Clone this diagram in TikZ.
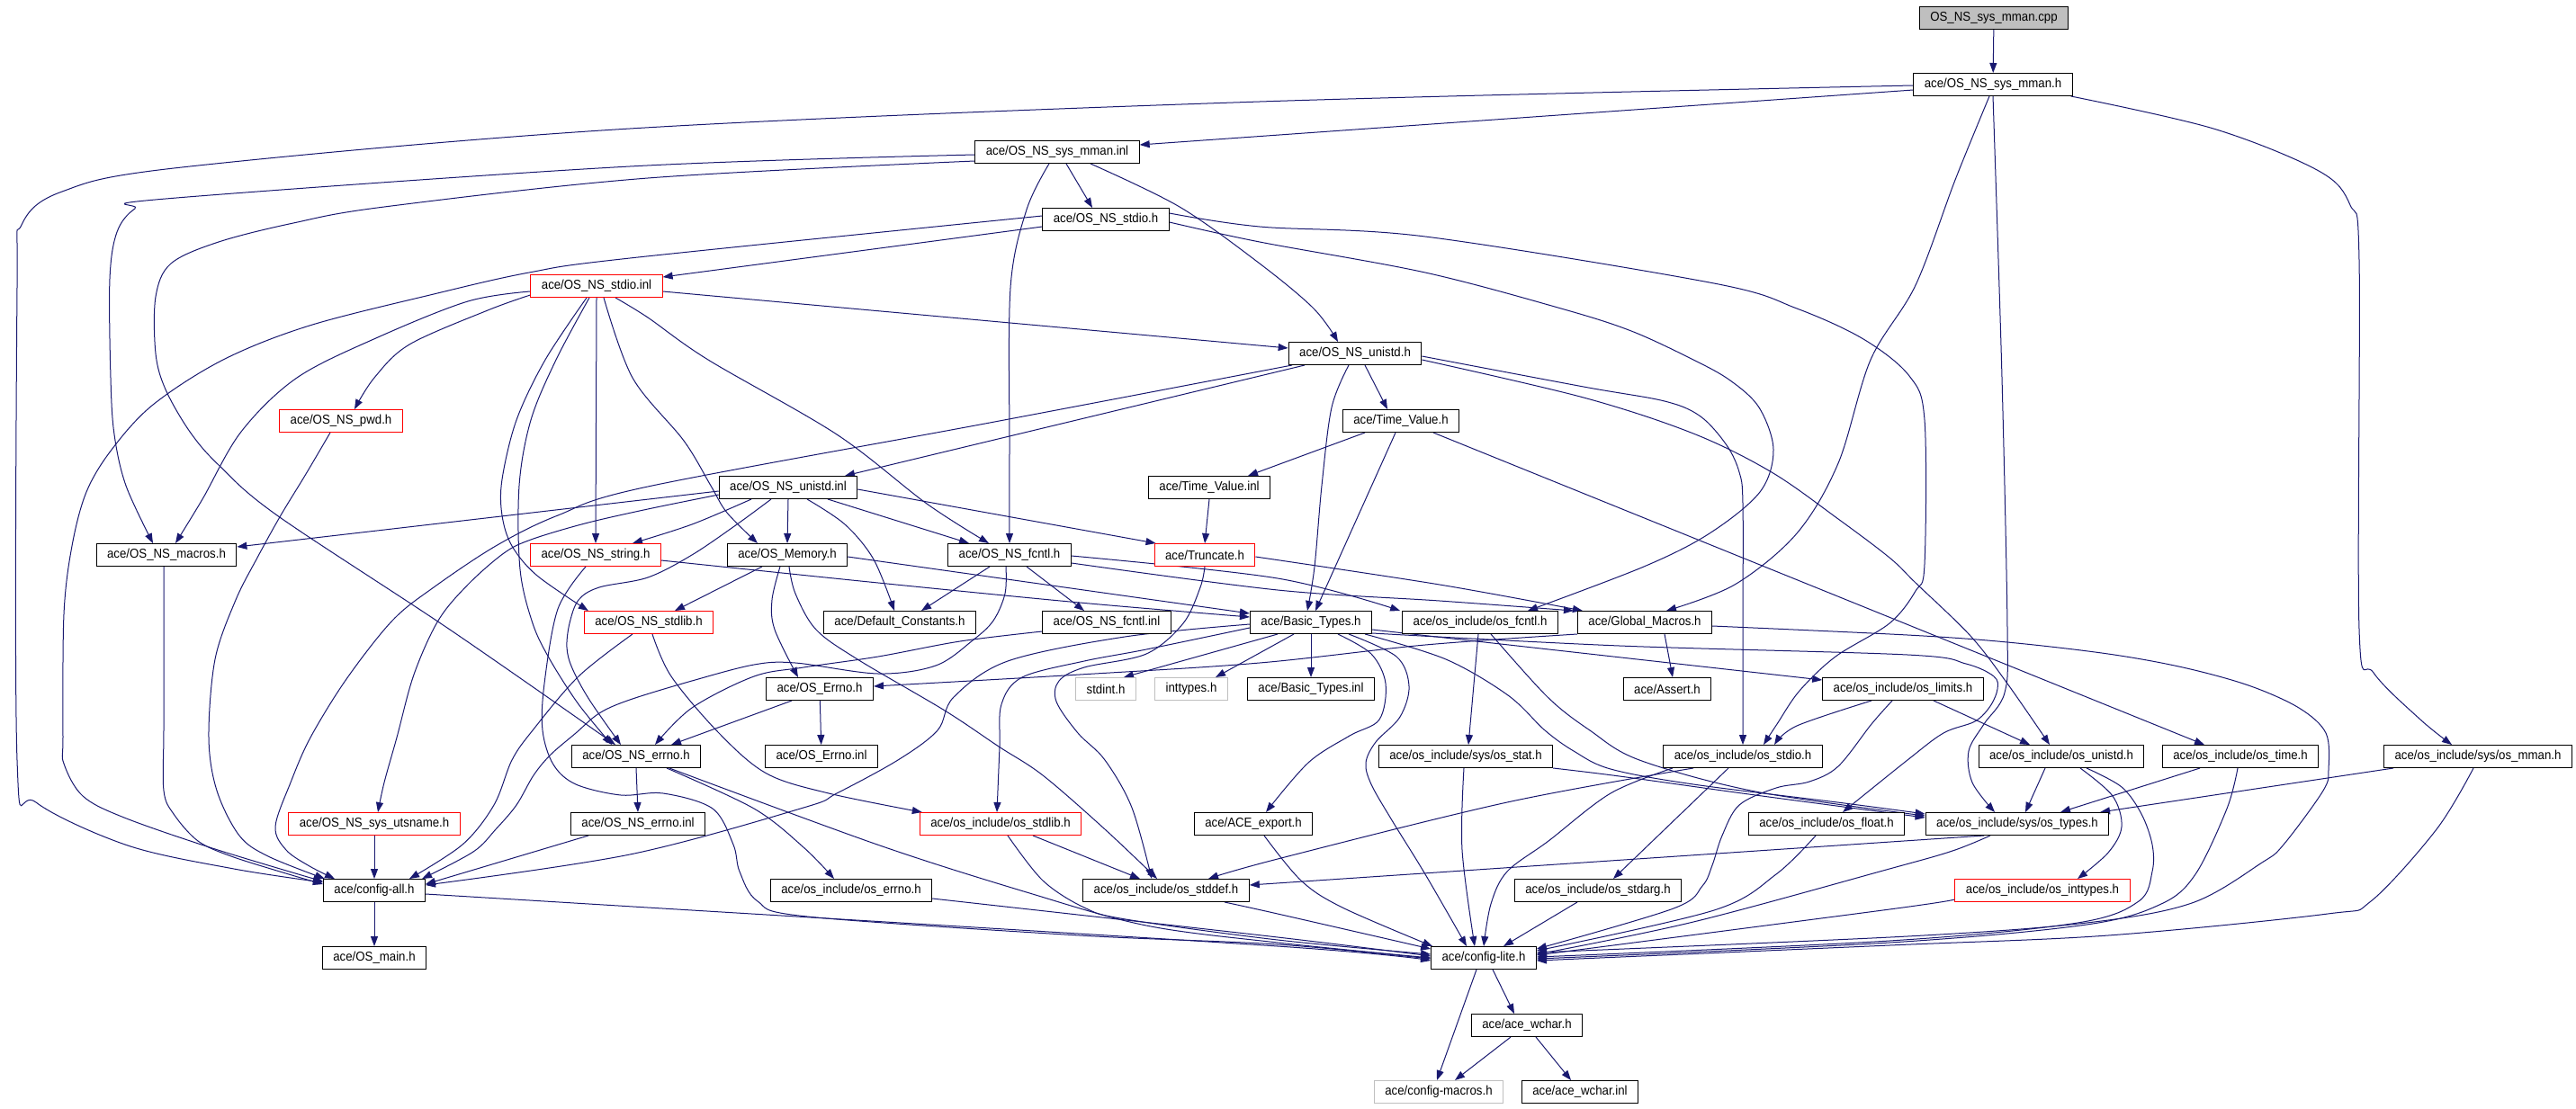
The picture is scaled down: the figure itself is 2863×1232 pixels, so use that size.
\documentclass[tikz,border=0pt]{standalone}
\usepackage{fontspec}
\setmainfont{Liberation Sans}[FakeStretch=0.92]
\usetikzlibrary{arrows.meta}
\definecolor{eblue}{RGB}{25,25,112}
\definecolor{bgray}{RGB}{191,191,191}
\pgfdeclarelayer{bgl}
\pgfdeclarelayer{edl}
\pgfsetlayers{bgl,edl,main}
\newcommand\dfont{\fontsize{14.4}{16}\selectfont}
\tikzset{
  nbox/.style={draw=black, line width=1pt, fill=white, minimum height=25pt, inner xsep=12pt, inner ysep=0pt, font=\dfont, text=black},
  rbox/.style={nbox, draw=red},
  gbox/.style={nbox, draw=bgray},
  edg/.style={draw=eblue, line width=1pt, -{Triangle[length=11pt,width=8pt]}, fill=none},
  sm/.style={smooth, tension=0.55}
}
\begin{document}
\begin{tikzpicture}[x=1pt,y=-1pt]
\begin{pgfonlayer}{bgl}
\fill[white] (0,0) rectangle (2863,1232);
\end{pgfonlayer}
\useasboundingbox (0,0) rectangle (2863,1232);
% nodes
\node[nbox, fill=bgray] (cpp) at (2216,20) {OS\_NS\_sys\_mman.cpp};
\node[nbox] (smh) at (2215,94) {ace/OS\_NS\_sys\_mman.h};
\node[nbox] (smi) at (1175,169) {ace/OS\_NS\_sys\_mman.inl};
\node[nbox] (stdioh) at (1229,244) {ace/OS\_NS\_stdio.h};
\node[rbox] (stdioi) at (663,318) {ace/OS\_NS\_stdio.inl};
\node[nbox] (unih) at (1506,393) {ace/OS\_NS\_unistd.h};
\node[rbox] (pwd) at (379,468) {ace/OS\_NS\_pwd.h};
\node[nbox] (tvh) at (1557,468) {ace/Time\_Value.h};
\node[nbox] (unii) at (876,542) {ace/OS\_NS\_unistd.inl};
\node[nbox] (tvi) at (1344,542) {ace/Time\_Value.inl};
\node[nbox] (macros) at (185,617) {ace/OS\_NS\_macros.h};
\node[rbox] (string) at (662,617) {ace/OS\_NS\_string.h};
\node[nbox] (memory) at (875,617) {ace/OS\_Memory.h};
\node[nbox] (fcntl) at (1122,617) {ace/OS\_NS\_fcntl.h};
\node[rbox] (trunc) at (1339,617) {ace/Truncate.h};
\node[rbox] (stdlib) at (721,692) {ace/OS\_NS\_stdlib.h};
\node[nbox] (defc) at (1000,692) {ace/Default\_Constants.h};
\node[nbox] (fcntli) at (1230,692) {ace/OS\_NS\_fcntl.inl};
\node[nbox] (basic) at (1457,692) {ace/Basic\_Types.h};
\node[nbox] (osfcntl) at (1645,692) {ace/os\_include/os\_fcntl.h};
\node[nbox] (glob) at (1828,692) {ace/Global\_Macros.h};
\node[nbox] (errnoh) at (911,766) {ace/OS\_Errno.h};
\node[gbox] (stdint) at (1229,766) {stdint.h};
\node[gbox] (inttypes) at (1324,766) {inttypes.h};
\node[nbox] (basici) at (1457,766) {ace/Basic\_Types.inl};
\node[nbox] (assert) at (1853,766) {ace/Assert.h};
\node[nbox] (limits) at (2115,766) {ace/os\_include/os\_limits.h};
\node[nbox] (nserrno) at (707,841) {ace/OS\_NS\_errno.h};
\node[nbox] (errnoi) at (913,841) {ace/OS\_Errno.inl};
\node[nbox] (osstat) at (1629,841) {ace/os\_include/sys/os\_stat.h};
\node[nbox] (osstdio) at (1937,841) {ace/os\_include/os\_stdio.h};
\node[nbox] (osunistd) at (2291,841) {ace/os\_include/os\_unistd.h};
\node[nbox] (ostime) at (2490,841) {ace/os\_include/os\_time.h};
\node[nbox] (osmman) at (2754,841) {ace/os\_include/sys/os\_mman.h};
\node[rbox] (uts) at (416,916) {ace/OS\_NS\_sys\_utsname.h};
\node[nbox] (nserrnoi) at (709,916) {ace/OS\_NS\_errno.inl};
\node[rbox] (osstdlib) at (1112,916) {ace/os\_include/os\_stdlib.h};
\node[nbox] (export) at (1393,916) {ace/ACE\_export.h};
\node[nbox] (osfloat) at (2030,916) {ace/os\_include/os\_float.h};
\node[nbox] (ostypes) at (2242,916) {ace/os\_include/sys/os\_types.h};
\node[nbox] (cfgall) at (416,990) {ace/config-all.h};
\node[nbox] (oserrno) at (946,990) {ace/os\_include/os\_errno.h};
\node[nbox] (osstddef) at (1296,990) {ace/os\_include/os\_stddef.h};
\node[nbox] (osstdarg) at (1776,990) {ace/os\_include/os\_stdarg.h};
\node[rbox] (osinttypes) at (2270,990) {ace/os\_include/os\_inttypes.h};
\node[nbox] (osmain) at (416,1065) {ace/OS\_main.h};
\node[nbox] (cfglite) at (1649,1065) {ace/config-lite.h};
\node[nbox] (wchar) at (1697,1140) {ace/ace\_wchar.h};
\node[gbox] (cfgmacros) at (1599,1214) {ace/config-macros.h};
\node[nbox] (wchari) at (1756,1214) {ace/ace\_wchar.inl};
% edges
\begin{pgfonlayer}{edl}
\draw[edg] (cpp) -- (smh);
\draw[edg] ([yshift=-6pt]smh.west) -- ([yshift=8pt]smi.east);
\draw[edg] plot[sm] coordinates {([yshift=-1pt]smh.west) (1400,113) (700,143) (202,186) (69,213) (24,250) (19,320) (19,845) (40,892) (142,940) (260,966) ([yshift=9pt]cfgall.west)};
\draw[edg] plot[sm] coordinates {([xshift=-4pt]smh.south) (2173,200) (2129,317) (2079,400) (2043,515) (1997,593) (1928,650) ([xshift=24pt]glob.north)};
\draw[edg] plot[sm] coordinates {(smh.south) (2225,420) (2231,700) (2228,770) (2205,805) (2188,835) (2192,870) ([xshift=-25pt]ostypes.north)};
\draw[edg] plot[sm] coordinates {([xshift=-2pt]smh.south east) (2460,143) (2577,190) (2612,228) (2622,290) (2622,700) (2638,748) (2690,800) ([xshift=-29pt]osmman.north)};
\draw[edg] ([xshift=10pt]smi.south) -- ([xshift=-15pt]stdioh.north);
\draw[edg] plot[sm] coordinates {([xshift=37pt]smi.south) (1311,230) (1400,293) (1460,343) ([xshift=-19pt]unih.north)};
\draw[edg] plot[sm] coordinates {([xshift=-9pt]smi.south) (1141,233) (1123,320) (1122,500) (fcntl.north)};
\draw[edg] plot[sm] coordinates {([yshift=-3pt]smi.west) (700,185) (184,221) (150,232) (130,258) (122,310) (123,420) (127,483) (140,540) ([xshift=-15pt]macros.north)};
\draw[edg] plot[sm] coordinates {([yshift=-10pt]smi.west) (720,198) (427,230) (326,248) (243,269) (190,293) (173,330) (173,393) (184,433) (211,480) (243,517) (308,573) (500,700) ([xshift=-23pt]nserrno.north)};
\draw[edg] ([yshift=-8pt]stdioh.west) -- ([yshift=-3pt]stdioi.north east);
\draw[edg] plot[sm] coordinates {([yshift=4pt]stdioh.west) (700,287) (588,303) (482,327) (344,362) (248,400) (170,450) (124,500) (96,547) (80,607) (71,683) (70,820) (71,849) (92,885) (138,909) (239,944) ([yshift=-3pt]cfgall.north west)};
\draw[edg] plot[sm] coordinates {([yshift=-3pt]stdioh.east) (1400,269) (1584,303) (1735,343) (1813,368) (1882,400) (1923,423) (1955,453) (1971,500) (1956,547) (1900,593) (1827,630) ([xshift=53pt]osfcntl.north)};
\draw[edg] plot[sm] coordinates {([yshift=7pt]stdioh.east) (1400,252) (1584,263) (1905,315) (1997,343) (2071,377) (2122,418) (2139,467) (2139,627) (2129,657) (2100,693) (2040,730) (2000,768) (1975,805) ([xshift=23pt]osstdio.north)};
\draw[edg] ([yshift=-6pt]stdioi.east) -- ([yshift=6pt]unih.west);
\draw[edg] plot[sm] coordinates {([yshift=-10pt]stdioi.west) (542,345) (455,383) (416,420) ([xshift=15pt]pwd.north)};
\draw[edg] plot[sm] coordinates {([yshift=-6pt]stdioi.west) (520,335) (420,375) (330,420) (268,480) (225,555) ([xshift=10pt]macros.north)};
\draw[edg] plot[sm] coordinates {([xshift=-11pt]stdioi.south) (606,400) (574,467) (558,533) (558,573) (569,607) (597,640) ([xshift=5pt]stdlib.north west)};
\draw[edg] plot[sm] coordinates {([xshift=-8pt]stdioi.south) (618,400) (590,467) (577,540) (578,633) (592,693) (611,733) (643,783) ([xshift=-27pt]nserrno.north)};
\draw[edg] (stdioi.south) -- (string.north);
\draw[edg] plot[sm] coordinates {([xshift=8pt]stdioi.south) (703,420) (760,490) (790,540) (808,570) ([xshift=-33pt]memory.north)};
\draw[edg] plot[sm] coordinates {([xshift=21pt]stdioi.south) (720,353) (787,400) (930,483) (1030,560) ([xshift=-23pt]fcntl.north)};
\draw[edg] ([xshift=-56pt]unih.south) -- ([xshift=63pt]unii.north);
\draw[edg] plot[sm] coordinates {([xshift=-70pt]unih.south) (1100,470) (720,541) (620,573) (551,607) (482,653) (436,690) (385,755) (345,820) (323,870) (306,919) (318,945) (344,963) ([xshift=-44pt]cfgall.north)};
\draw[edg] ([xshift=11pt]unih.south) -- ([xshift=-15pt]tvh.north);
\draw[edg] plot[sm] coordinates {([xshift=-7pt]unih.south) (1480,453) (1469,540) (1461,630) ([xshift=-4pt]basic.north)};
\draw[edg] ([xshift=-6pt]tvh.south) -- ([xshift=5pt]basic.north);
\draw[edg] plot[sm] coordinates {([yshift=-3pt]unih.east) (1760,430) (1850,446) (1890,463) (1919,495) (1933,525) (1937,560) (1937,700) (osstdio.north)};
\draw[edg] plot[sm] coordinates {([yshift=-7pt]unih.east) (1760,442) (1882,482) (1969,525) (2043,577) (2100,620) (2129,648) (2190,707) (2231,760) ([xshift=-13pt]osunistd.north)};
\draw[edg] ([xshift=-40pt]tvh.south) -- ([xshift=43pt]tvi.north);
\draw[edg] ([xshift=36pt]tvh.south) -- ([xshift=-40pt]ostime.north);
\draw[edg] (tvi.south) -- (trunc.north);
\draw[edg] ([yshift=-4pt]unii.west) -- ([yshift=9pt]macros.east);
\draw[edg] plot[sm] coordinates {([yshift=-8pt]unii.west) (720,566) (650,582) (590,600) (560,615) (520,650) (487,690) (460,750) (441,820) (427,870) ([xshift=4pt]uts.north)};
\draw[edg] plot[sm] coordinates {([xshift=-41pt]unii.south) (769,583) ([xshift=41pt]string.north)};
\draw[edg] plot[sm] coordinates {([xshift=-19pt]unii.south) (819,583) (769,617) (720,642) (666,653) (643,667) (633,693) (630,720) (636,743) (655,778) ([xshift=-17pt]nserrno.north)};
\draw[edg] (unii.south) -- (memory.north);
\draw[edg] plot[sm] coordinates {([xshift=21pt]unii.south) (939,583) (971,622) ([xshift=-6pt]defc.north)};
\draw[edg] ([xshift=44pt]unii.south) -- ([xshift=-45pt]fcntl.north);
\draw[edg] ([yshift=-2pt]unii.east) -- ([xshift=2pt]trunc.north west);
\draw[edg] ([xshift=-28pt]memory.south) -- ([xshift=29pt]stdlib.north);
\draw[edg] plot[sm] coordinates {([xshift=-8pt]memory.south) (858,667) (861,700) ([xshift=-24pt]errnoh.north)};
\draw[edg] ([yshift=-2pt]memory.east) -- ([yshift=-3pt]basic.north west);
\draw[edg] plot[sm] coordinates {([xshift=2pt]memory.south) (884,660) (907,700) (953,733) (1050,790) (1110,830) (1159,862) (1228,922) ([xshift=-10pt]osstddef.north)};
\draw[edg] plot[sm] coordinates {([yshift=-6pt]string.east) (976,648) (1200,670) ([yshift=-7pt]basic.north west)};
\draw[edg] plot[sm] coordinates {([xshift=-11pt]string.south) (620,677) (605,760) (603,812) (615,850) (640,872) (690,884) (737,882) (792,899) (815,939) (822,969) (842,1002) (897,1019) (1200,1040) (1420,1050) ([yshift=-1pt]cfglite.west)};
\draw[edg] plot[sm] coordinates {([xshift=-18pt]stdlib.south) (643,752) (592,812) (569,845) (549,895) (514,939) ([xshift=39pt]cfgall.north)};
\draw[edg] plot[sm] coordinates {([xshift=4pt]stdlib.south) (746,752) (799,815) (852,860) (921,882) ([xshift=3pt]osstdlib.north west)};
\draw[edg] ([xshift=-22pt]fcntl.south) -- ([xshift=24pt]defc.north);
\draw[edg] ([xshift=19pt]fcntl.south) -- ([xshift=-25pt]fcntli.north);
\draw[edg] plot[sm] coordinates {([yshift=-1pt]fcntl.east) (1420,643) ([xshift=-2pt]osfcntl.north west)};
\draw[edg] plot[sm] coordinates {([yshift=-9pt]fcntl.east) (1420,656) (1600,668) ([xshift=-4pt]glob.north west)};
\draw[edg] plot[sm] coordinates {([yshift=-2pt]trunc.east) (1600,650) ([xshift=6pt]glob.north west)};
\draw[edg] plot[sm] coordinates {(trunc.south) (1334,653) (1315,693) (1274,727) (1205,742) (1177,757) (1174,780) (1198,815) (1228,845) (1258,898) ([xshift=-16pt]osstddef.north)};
\draw[edg] plot[sm] coordinates {([yshift=-6pt]basic.west) (1274,722) (1205,735) (1136,753) (1113,783) (1111,830) ([xshift=-4pt]osstdlib.north)};
\draw[edg] plot[sm] coordinates {([yshift=-2pt]basic.west) (1250,708) (1120,735) (1060,775) (1042,812) (998,845) (930,882) (893,898) (700,950) ([yshift=6pt]cfgall.east)};
\draw[edg] (basic.south) -- (basici.north);
\draw[edg] ([xshift=-37pt]basic.south) -- ([xshift=20pt]stdint.north);
\draw[edg] ([xshift=-19pt]basic.south) -- ([xshift=27pt]inttypes.north);
\draw[edg] plot[sm] coordinates {([xshift=30pt]basic.south) (1524,727) (1540,760) (1533,800) (1500,818) (1454,848) ([xshift=14pt]export.north)};
\draw[edg] plot[sm] coordinates {([xshift=42pt]basic.south) (1552,730) (1566,763) (1556,797) (1529,825) (1518,848) (1524,872) (1547,912) (1584,972) ([xshift=-19pt]cfglite.north)};
\draw[edg] plot[sm] coordinates {([xshift=-8pt]basic.south east) (1607,733) (1676,773) (1717,812) (1749,835) (1790,855) (1882,872) (2050,893) ([yshift=-2pt]ostypes.north west)};
\draw[edg] ([yshift=-8pt]basic.east) -- ([yshift=-3pt]limits.north west);
\draw[edg] plot[sm] coordinates {([yshift=-12pt]basic.east) (1800,718) (2120,728) (2185,738) (2216,752) (2220,766) (2212,785) (2195,802) (2160,815) (2120,845) ([xshift=18pt]osfloat.north)};
\draw[edg] ([xshift=22pt]glob.south) -- ([xshift=6pt]assert.north);
\draw[edg] plot[sm] coordinates {(glob.south west) (1584,717) (1400,737) (1200,750) ([yshift=3pt]errnoh.east)};
\draw[edg] plot[sm] coordinates {([yshift=-4pt]glob.east) (2120,706) (2231,714) (2343,727) (2426,742) (2499,762) (2555,787) (2585,815) (2588,855) (2582,879) (2538,939) (2514,959) (2436,1004) (2319,1026) (2120,1041) ([yshift=6pt]cfglite.east)};
\draw[edg] ([xshift=-2pt]osfcntl.south) -- ([xshift=3pt]osstat.north);
\draw[edg] plot[sm] coordinates {([xshift=12pt]osfcntl.south) (1720,775) (1767,812) (1822,845) (1951,880) ([yshift=-4pt]ostypes.north west)};
\draw[edg] plot[sm] coordinates {(osstat.south east) (1800,863) (1951,884) ([yshift=-6pt]ostypes.north west)};
\draw[edg] plot[sm] coordinates {([xshift=-2pt]osstat.south) (1625,945) ([xshift=-10pt]cfglite.north)};
\draw[edg] plot[sm] coordinates {([xshift=-55pt]osstdio.south) (1675,892) (1420,955) ([xshift=47pt]osstddef.north)};
\draw[edg] ([xshift=-16pt]osstdio.south) -- ([xshift=17pt]osstdarg.north);
\draw[edg] plot[sm] coordinates {([xshift=-78pt]osstdio.south) (1790,882) (1721,935) (1675,969) (1657,1005) (cfglite.north)};
\draw[edg] ([xshift=-23pt]osstdarg.south) -- ([xshift=22pt]cfglite.north);
\draw[edg] ([xshift=36pt]osstdlib.south) -- ([xshift=-29pt]osstddef.north);
\draw[edg] plot[sm] coordinates {([xshift=8pt]osstdlib.south) (1159,979) (1205,1009) (1251,1022) (1420,1045) ([yshift=4pt]cfglite.west)};
\draw[edg] plot[sm] coordinates {([yshift=-9pt]oserrno.east) (1420,1042) ([yshift=2pt]cfglite.west)};
\draw[edg] plot[sm] coordinates {([xshift=34pt]nserrno.south) (838,899) (893,942) ([xshift=-19pt]oserrno.north)};
\draw[edg] plot[sm] coordinates {([xshift=37pt]nserrno.south) (975,939) (1141,992) (1274,1029) (1420,1048) (cfglite.west)};
\draw[edg] (nserrno.south) -- (nserrnoi.north);
\draw[edg] ([xshift=-55pt]nserrnoi.south) -- ([yshift=7pt]cfgall.east);
\draw[edg] (cfgall) -- (osmain);
\draw[edg] plot[sm] coordinates {([yshift=-4pt]cfgall.east) (720,1009) (1420,1052) ([yshift=-3pt]cfglite.west)};
\draw[edg] (uts) -- (cfgall);
\draw[edg] (errnoh) -- (errnoi);
\draw[edg] ([xshift=-31pt]errnoh.south) -- ([xshift=39pt]nserrno.north);
\draw[edg] plot[sm] coordinates {([yshift=-10pt]fcntli.west) (1067,713) (976,730) (893,742) (838,752) (769,787) ([xshift=21pt]nserrno.north)};
\draw[edg] plot[sm] coordinates {([xshift=-4pt]fcntl.south) (1117,660) (1104,690) (1081,712) (1040,740) (976,749) (884,737) (838,739) (769,757) (700,778) (666,793) (640,815) (612,839) (593,862) (574,895) (551,922) (526,947) ([xshift=-4pt]cfgall.north east)};
\draw[edg] plot[sm] coordinates {([xshift=-12pt]osfloat.south) (1974,972) (1905,1012) ([yshift=8pt]cfglite.east)};
\draw[edg] ([xshift=-37pt]ostypes.south) -- ([yshift=6pt]osstddef.east);
\draw[edg] plot[sm] coordinates {([xshift=-30pt]ostypes.south) (2170,946) (2100,966) (1882,1025) ([yshift=4pt]cfglite.east)};
\draw[edg] ([xshift=-18pt]osunistd.south) -- ([xshift=9pt]ostypes.north);
\draw[edg] plot[sm] coordinates {([xshift=21pt]osunistd.south) (2348,885) (2358,919) (2343,948) ([xshift=39pt]osinttypes.north)};
\draw[edg] plot[sm] coordinates {([xshift=28pt]osunistd.south) (2358,875) (2380,905) (2392,939) (2392,969) (2377,1002) (2309,1026) (2100,1046) ([yshift=1pt]cfglite.east)};
\draw[edg] ([xshift=-45pt]ostime.south) -- ([xshift=48pt]ostypes.north);
\draw[edg] plot[sm] coordinates {([xshift=-3pt]ostime.south) (2475,899) (2440,972) (2402,1005) (2319,1028) (2100,1048) ([yshift=-1pt]cfglite.east)};
\draw[edg] ([xshift=-94pt]osmman.south) -- ([xshift=92pt]ostypes.north);
\draw[edg] plot[sm] coordinates {([xshift=-5pt]osmman.south) (2708,922) (2635,1002) (2587,1016) (2343,1040) (2100,1051) ([yshift=-3pt]cfglite.east)};
\draw[edg] plot[sm] coordinates {([yshift=-10pt]osinttypes.west) (2100,1011) ([yshift=3pt]cfglite.east)};
\draw[edg] plot[sm] coordinates {([xshift=65pt]osstddef.south) (1420,1016) ([yshift=10pt]cfglite.west)};
\draw[edg] plot[sm] coordinates {([xshift=12pt]export.south) (1446,979) (1492,1009) ([xshift=2pt]cfglite.north west)};
\draw[edg] ([xshift=34pt]limits.south) -- ([xshift=-35pt]osunistd.north);
\draw[edg] plot[sm] coordinates {([xshift=-35pt]limits.south) (1997,807) ([xshift=35pt]osstdio.north)};
\draw[edg] plot[sm] coordinates {([xshift=-12pt]limits.south) (2080,805) (2043,852) (2011,869) (1974,876) (1933,895) (1914,929) (1903,962) (1892,985) (1860,1010) ([yshift=10pt]cfglite.east)};
\draw[edg] plot[sm] coordinates {([xshift=-12pt]pwd.south) (340,527) (312,573) (286,620) (262,667) (239,733) (232,820) (241,879) (266,929) (298,952) ([xshift=2pt]cfgall.north west)};
\draw[edg] plot[sm] coordinates {([xshift=-3pt]macros.south) (182,700) (182,812) (182,879) (193,905) (220,935) (257,952) (321,972) ([yshift=-6pt]cfgall.north west)};
\draw[edg] ([xshift=10pt]cfglite.south) -- ([xshift=-14pt]wchar.north);
\draw[edg] ([xshift=-8pt]cfglite.south) -- ([xshift=-2pt]cfgmacros.north);
\draw[edg] ([xshift=-18pt]wchar.south) -- ([xshift=18pt]cfgmacros.north);
\draw[edg] ([xshift=10pt]wchar.south) -- ([xshift=-10pt]wchari.north);
\end{pgfonlayer}
\end{tikzpicture}
\end{document}
